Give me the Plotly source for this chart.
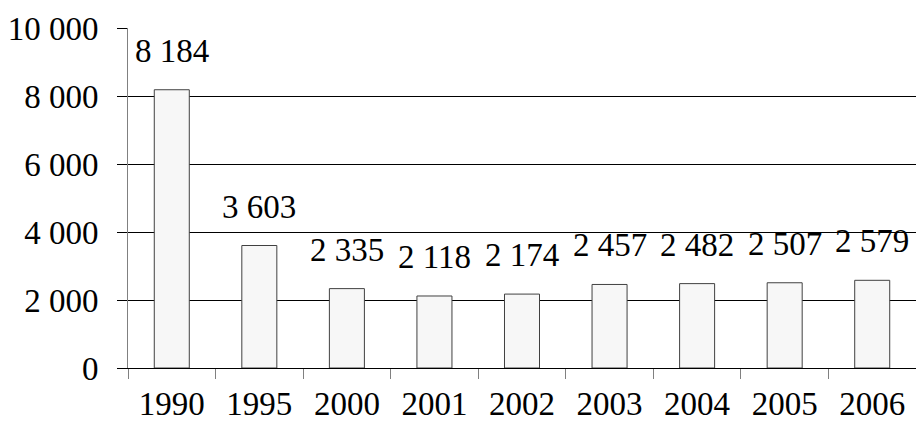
import plotly.graph_objects as go

years = ["1990", "1995", "2000", "2001", "2002", "2003", "2004", "2005", "2006"]
values = [8184, 3603, 2335, 2118, 2174, 2457, 2482, 2507, 2579]
y_ticks = [0, 2000, 4000, 6000, 8000, 10000]

FONT = "'Liberation Serif', 'Times New Roman', Times, serif"
FS = 33

def fmt(v):
    return f"{v:,}".replace(",", " ")

fig = go.Figure()
fig.add_trace(go.Bar(
    x=years, y=values,
    marker=dict(color="#f7f7f7", line=dict(color="#404040", width=1)),
    width=0.4,
))

# annotations placed by category index on the category axis
for i, v in enumerate(values):
    fig.add_annotation(x=i, y=v, text=fmt(v), showarrow=False,
                       yanchor="middle", yshift=39,
                       font=dict(family=FONT, size=FS, color="black"))

fig.update_layout(
    width=916, height=430,
    margin=dict(l=128, r=0, t=28, b=62, autoexpand=False),
    plot_bgcolor="white", paper_bgcolor="white",
    font=dict(family=FONT, size=FS, color="black"),
    showlegend=False,
)
fig.update_yaxes(
    range=[0, 10000], tickvals=y_ticks,
    ticktext=[fmt(t) for t in y_ticks],
    tickfont=dict(family=FONT, size=FS),
    showgrid=True, gridcolor="black", gridwidth=1,
    zeroline=False, automargin=False,
    showline=True, linecolor="#808080", linewidth=1,
    ticks="outside", ticklen=10, tickcolor="black",
    ticklabelstandoff=12,
)
fig.update_xaxes(
    type="category", tickangle=0, automargin=False,
    tickfont=dict(family=FONT, size=FS),
    range=[-0.5, len(years) - 0.5],
    showline=True, linecolor="black", linewidth=1,
    ticks="outside", tickson="boundaries", ticklen=10, tickcolor="#808080",
    ticklabelstandoff=6,
)

post = (
    "document.body.style.margin='0';document.body.style.padding='0';"
    "if (document.fonts) { document.fonts.ready.then(function(){"
    "Plotly.relayout('{plot_id}', {}); }); }"
)

fig.write_html("out.html",
               config={"displayModeBar": False},
               post_script=post)
